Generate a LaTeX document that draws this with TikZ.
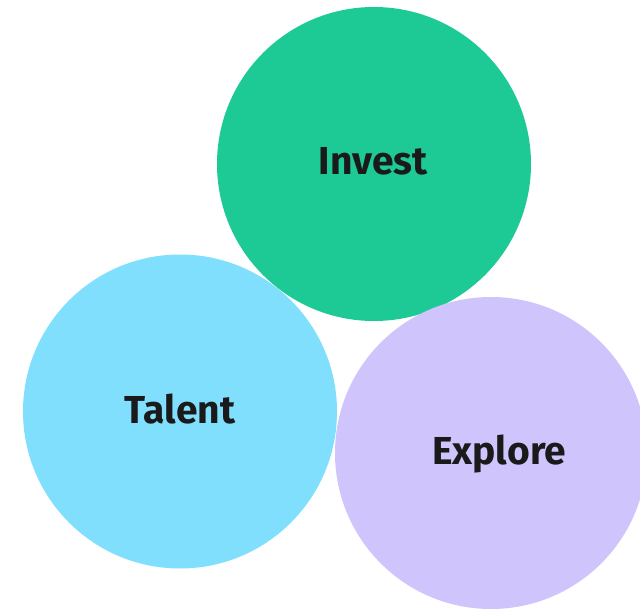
\documentclass[tikz,border=0pt]{standalone}
\usepackage{fontspec}
\setmainfont{Fira Sans}
\definecolor{cgreen}{HTML}{1DC995}
\definecolor{cblue}{HTML}{80DFFD}
\definecolor{clav}{HTML}{D0C4FC}
\definecolor{ctext}{HTML}{1A1A1A}
\begin{document}
\begin{tikzpicture}[x=1pt,y=-1pt,
  bubble/.style={circle,minimum size=314pt,inner sep=0pt,draw=none},
  lbl/.style={text=ctext,font=\fontsize{39}{44}\selectfont\bfseries}]
\useasboundingbox (0,0) rectangle (640,609);
\clip (0,0) rectangle (640,609);
\node[bubble,fill=cgreen] (invest) at (374,164) {};
\node[bubble,fill=cblue] (talent) at (180,411.5) {};
\node[bubble,fill=clav,minimum size=312pt] (explore) at (491,453) {};
\node[lbl] (tinvest) at (373,161) {Invest};
\node[lbl] (ttalent) at (180,409) {Talent};
\node[lbl] (texplore) at (499,454) {Explore};
\end{tikzpicture}
\end{document}
